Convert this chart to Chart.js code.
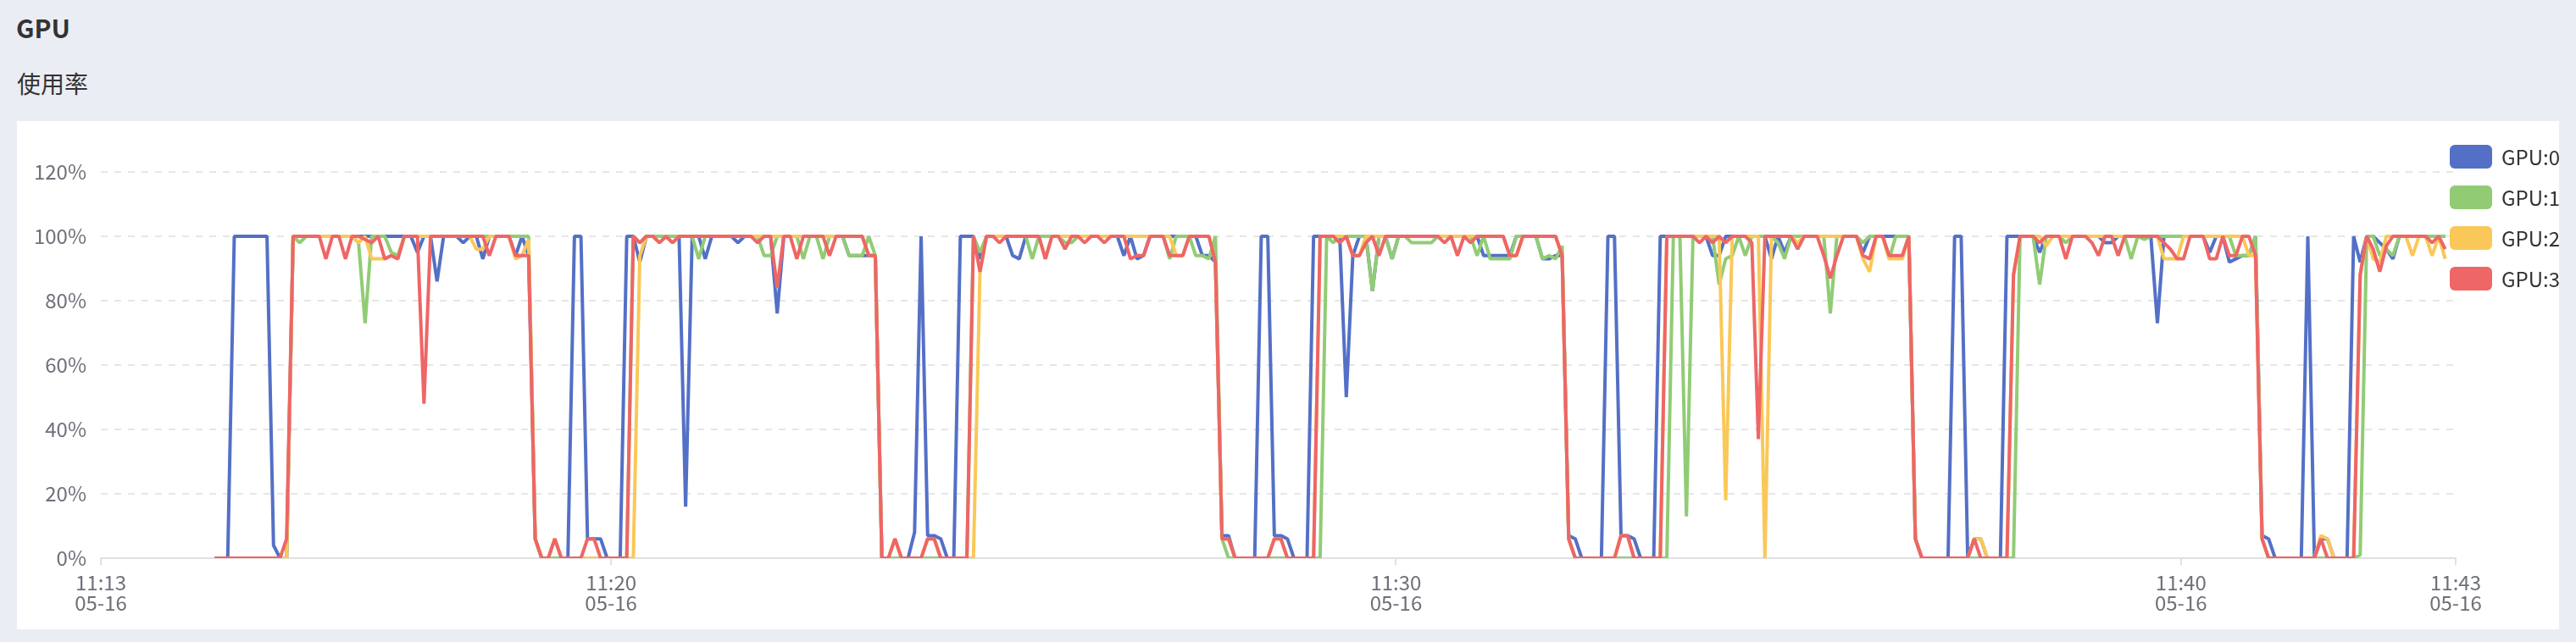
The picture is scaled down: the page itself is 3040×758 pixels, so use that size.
<!DOCTYPE html>
<html>
<head>
<meta charset="utf-8">
<script src="https://cdn.jsdelivr.net/npm/chart.js@4.4.1/dist/chart.umd.min.js"></script>
<style>
  html, body { margin: 0; padding: 0; }
  body { width: 3040px; height: 758px; overflow: hidden; position: relative; background: #eaedf4; font-family: "Noto Sans CJK SC", "Noto Sans", sans-serif; }
  #title { position: absolute; left: 19px; top: 17px; font-size: 30px; line-height: 30px; font-weight: bold; color: #333; }
  #sub { position: absolute; left: 20px; top: 84px; font-size: 28px; line-height: 28px; color: #333; }
  #panel { position: absolute; left: 20px; top: 143px; width: 3000px; height: 600px; background: #fff; }
  #c { position: absolute; left: 0; top: 0; }
  #legend { position: absolute; left: 2891px; top: 171px; }
  .item { display: flex; align-items: center; height: 28px; margin-bottom: 20px; }
  .box { width: 50px; height: 28px; border-radius: 6px; margin-right: 11px; }
  .lbl { font-size: 24px; line-height: 28px; color: #333; }
</style>
</head>
<body>
<div id="title">GPU</div>
<div id="sub">使用率</div>
<div id="panel"></div>
<canvas id="c" width="3040" height="758"></canvas>
<div id="legend"></div>
<script>
// ---- data ----
const seriesNames = ['GPU:0', 'GPU:1', 'GPU:2', 'GPU:3'];
const tickLabels = ['11:13', '11:20', '11:30', '11:40', '11:43'];
const tickDate = '05-16';
const tickSeconds = [810, 1200, 1800, 2400, 2610]; // seconds after 11:00:00
const axisMinSec = 810, axisMaxSec = 2610;
const firstSampleSec = 897; // 11:14:57
const sampleStepSec = 5;
const yTicks = [0, 20, 40, 60, 80, 100, 120];

const gpu0 = [
0,0,0,100,100,100,100,100,100,4,
0,0,100,100,100,100,100,100,100,100,
100,100,100,100,100,100,100,100,100,100,
100,95,100,100,86,100,100,100,98,100,
100,93,100,100,100,100,94,100,94,6,
0,0,0,0,0,100,100,6,6,6,
0,0,0,100,100,92,100,100,100,100,
100,100,16,100,100,93,100,100,100,100,
98,100,100,100,100,100,76,100,100,100,
100,100,100,100,100,100,100,94,94,94,
94,94,0,0,0,0,0,8,100,7,
7,6,0,0,100,100,100,93,100,100,
100,100,94,93,100,100,100,100,100,100,
100,100,100,100,100,100,100,100,100,94,
100,93,94,100,100,100,100,100,100,100,
100,94,94,92,7,7,0,0,0,0,
100,100,7,7,6,0,0,0,100,100,
100,100,100,50,94,100,100,83,100,100,
93,100,100,100,100,100,100,100,100,100,
100,100,100,100,94,94,94,94,94,100,
100,100,100,93,93,94,94,7,6,0,
0,0,0,100,100,7,7,6,0,0,
0,100,100,100,100,100,100,100,100,94,
94,100,100,100,100,100,100,100,93,100,
95,100,100,100,100,100,100,100,100,100,
100,100,95,100,100,100,100,100,100,100,
6,0,0,0,0,0,100,100,0,6,
6,0,0,0,100,100,100,100,100,95,
100,100,100,100,100,100,100,100,100,98,
98,100,100,100,100,100,100,73,100,100,
100,100,100,100,100,95,100,100,92,93,
94,94,100,7,6,0,0,0,0,0,
100,0,6,6,0,0,0,100,92,100,
100,98,96,93,100,100,100,100,100,100,
100,100
];
const gpu1 = [
0,0,0,0,0,0,0,0,0,0,
0,0,100,98,100,100,100,100,100,100,
100,100,98,73,100,100,100,95,94,100,
100,100,100,100,100,100,100,100,100,100,
100,100,100,100,100,100,100,100,100,6,
0,0,0,0,0,0,0,0,0,0,
0,0,0,0,100,98,100,100,100,100,
100,100,100,100,93,100,100,100,100,100,
100,100,100,100,94,94,100,100,100,100,
93,100,100,93,100,100,100,94,94,94,
100,94,0,0,0,0,0,0,0,0,
0,0,0,0,0,0,100,95,100,100,
100,100,100,100,100,93,100,100,100,100,
98,98,100,100,100,100,100,100,100,100,
100,100,100,100,100,100,93,100,100,100,
94,94,93,100,6,0,0,0,0,0,
0,0,0,0,0,0,0,0,0,0,
100,98,100,100,100,100,100,83,100,100,
93,100,100,98,98,98,98,100,100,100,
100,100,100,94,100,93,93,93,93,100,
100,100,100,93,94,93,97,6,0,0,
0,0,0,0,0,0,0,0,0,0,
0,0,0,100,100,13,100,100,100,100,
85,93,94,100,94,100,100,100,100,98,
93,100,100,100,100,100,100,76,100,100,
100,100,98,100,100,100,93,100,100,100,
6,0,0,0,0,0,0,0,0,0,
0,0,0,0,0,0,100,100,100,85,
100,100,100,98,100,100,100,100,100,100,
100,100,100,93,100,99,100,100,100,100,
100,100,100,100,100,100,100,100,100,94,
94,94,100,6,0,0,0,0,0,0,
0,0,0,0,0,0,0,0,1,100,
100,94,96,94,100,100,100,100,100,100,
100,100
];
const gpu2 = [
0,0,0,0,0,0,0,0,0,0,
0,0,100,100,100,100,100,100,100,100,
100,100,98,100,93,93,93,94,93,100,
100,100,100,100,100,100,100,100,100,100,
96,96,100,100,100,100,93,94,99,6,
0,0,6,0,0,0,0,0,0,0,
0,0,0,0,0,94,100,100,98,100,
98,100,100,100,100,100,100,100,100,100,
100,100,100,100,100,100,100,100,100,100,
100,100,100,100,100,100,100,100,100,100,
94,94,0,0,6,0,0,0,0,6,
6,0,0,0,0,0,0,89,100,100,
100,100,100,100,100,100,100,93,100,100,
100,100,100,100,100,100,100,100,100,100,
100,100,100,100,100,100,100,94,94,100,
100,100,100,92,6,6,0,0,0,0,
0,0,6,6,0,0,0,0,0,100,
100,100,100,100,94,94,100,100,100,100,
100,100,100,100,100,100,100,100,100,100,
100,100,100,100,100,100,100,100,94,94,
100,100,100,100,100,100,94,6,0,0,
0,0,0,0,0,7,7,0,0,0,
0,0,100,100,100,100,100,100,100,100,
100,18,100,100,100,100,100,0,100,100,
100,100,98,100,100,100,100,100,100,100,
100,100,93,89,100,100,93,93,93,100,
6,0,0,0,0,0,0,0,0,6,
6,0,0,0,0,88,100,100,100,100,
97,100,100,100,100,100,100,100,100,100,
100,100,100,100,100,100,100,100,93,93,
93,100,100,100,100,100,100,100,100,100,
100,94,94,6,0,0,0,0,0,0,
0,0,7,6,0,0,0,0,88,100,
93,92,100,100,100,100,94,100,100,94,
100,93
];
const gpu3 = [
0,0,0,0,0,0,0,0,0,0,
0,6,100,100,100,100,100,93,100,100,
93,100,100,99,98,100,93,94,93,100,
100,100,48,100,100,100,100,100,100,100,
100,100,94,100,100,100,94,94,94,6,
0,0,6,0,0,0,0,6,6,0,
0,0,0,0,100,98,100,100,98,100,
98,100,100,100,100,100,100,100,100,100,
100,100,100,98,100,100,84,100,100,93,
100,100,100,100,94,100,100,100,100,100,
94,94,0,0,6,0,0,0,0,6,
6,0,0,0,0,0,100,89,100,100,
98,100,100,100,100,100,100,93,100,100,
96,100,100,98,100,100,98,100,100,100,
93,94,94,100,100,100,94,94,94,100,
100,100,100,92,6,6,0,0,0,0,
0,0,6,6,0,0,0,0,0,100,
100,100,98,100,94,94,98,100,94,100,
100,100,100,100,100,100,100,100,98,100,
94,100,98,100,100,100,100,100,94,94,
100,100,100,100,100,100,94,6,0,0,
0,0,0,0,0,7,7,0,0,0,
0,0,100,100,100,100,100,98,100,98,
100,98,100,100,100,98,37,100,100,100,
100,100,96,100,100,100,94,87,94,100,
100,100,94,93,100,100,94,94,94,100,
6,0,0,0,0,0,0,0,0,6,
0,0,0,0,0,88,100,100,100,98,
100,100,100,93,100,100,100,98,94,100,
100,94,100,100,100,100,100,100,98,96,
93,93,100,100,100,93,93,100,94,94,
100,100,94,6,0,0,0,0,0,0,
0,0,6,0,0,0,0,0,88,100,
96,89,97,100,100,100,100,100,100,98,
100,96
];

// ---- style ----
const colors = ['#5470c6', '#91cc75', '#fac858', '#ee6666'];
const FONT = '"Noto Sans CJK SC", "Noto Sans", sans-serif';

const seriesValues = [gpu0, gpu1, gpu2, gpu3];
const datasets = seriesValues.map((vals, k) => ({
  label: seriesNames[k],
  data: vals.map((v, i) => ({ x: firstSampleSec + i * sampleStepSec, y: v })),
  borderColor: colors[k],
  backgroundColor: colors[k],
  borderWidth: 4,
  borderJoinStyle: 'bevel',
  pointRadius: 0,
  tension: 0,
  fill: false,
  order: 3 - k
}));

new Chart(document.getElementById('c'), {
  type: 'line',
  data: { datasets },
  options: {
    responsive: false,
    animation: false,
    events: [],
    layout: { padding: { left: 0, top: 203, right: 142, bottom: 0 } },
    plugins: { legend: { display: false }, tooltip: { enabled: false } },
    scales: {
      x: {
        type: 'linear',
        min: axisMinSec,
        max: axisMaxSec,
        afterBuildTicks: (s) => { s.ticks = tickSeconds.map(v => ({ value: v })); },
        afterFit: (s) => { s.height = 99; },
        ticks: {
          autoSkip: false, maxRotation: 0, minRotation: 0, padding: 9,
          color: '#6e7079',
          font: { family: FONT, size: 24, lineHeight: 1 },
          callback: (v, i) => [tickLabels[i], tickDate]
        },
        grid: { display: true, drawOnChartArea: false, drawTicks: true, tickLength: 8, tickColor: '#e0e0e0', tickWidth: 2, color: '#e0e0e0', lineWidth: 2 },
        border: { display: true, color: '#e0e0e0', width: 2 }
      },
      y: {
        min: 0, max: 120,
        afterBuildTicks: (s) => { s.ticks = yTicks.map(v => ({ value: v })); },
        afterFit: (s) => { s.width = 119; },
        ticks: {
          padding: 17, color: '#6e7079',
          font: { family: FONT, size: 24 },
          callback: (v) => v + '%'
        },
        grid: { color: '#e6e6e6', lineWidth: 2, drawTicks: false },
        border: { display: false, dash: [8, 8] }
      }
    }
  }
});

// legend (HTML, built from series names/colours)
const lg = document.getElementById('legend');
seriesNames.forEach((n, k) => {
  const it = document.createElement('div'); it.className = 'item';
  const b = document.createElement('div'); b.className = 'box'; b.style.background = colors[k];
  const t = document.createElement('div'); t.className = 'lbl'; t.textContent = n;
  it.appendChild(b); it.appendChild(t); lg.appendChild(it);
});
</script>
</body>
</html>
